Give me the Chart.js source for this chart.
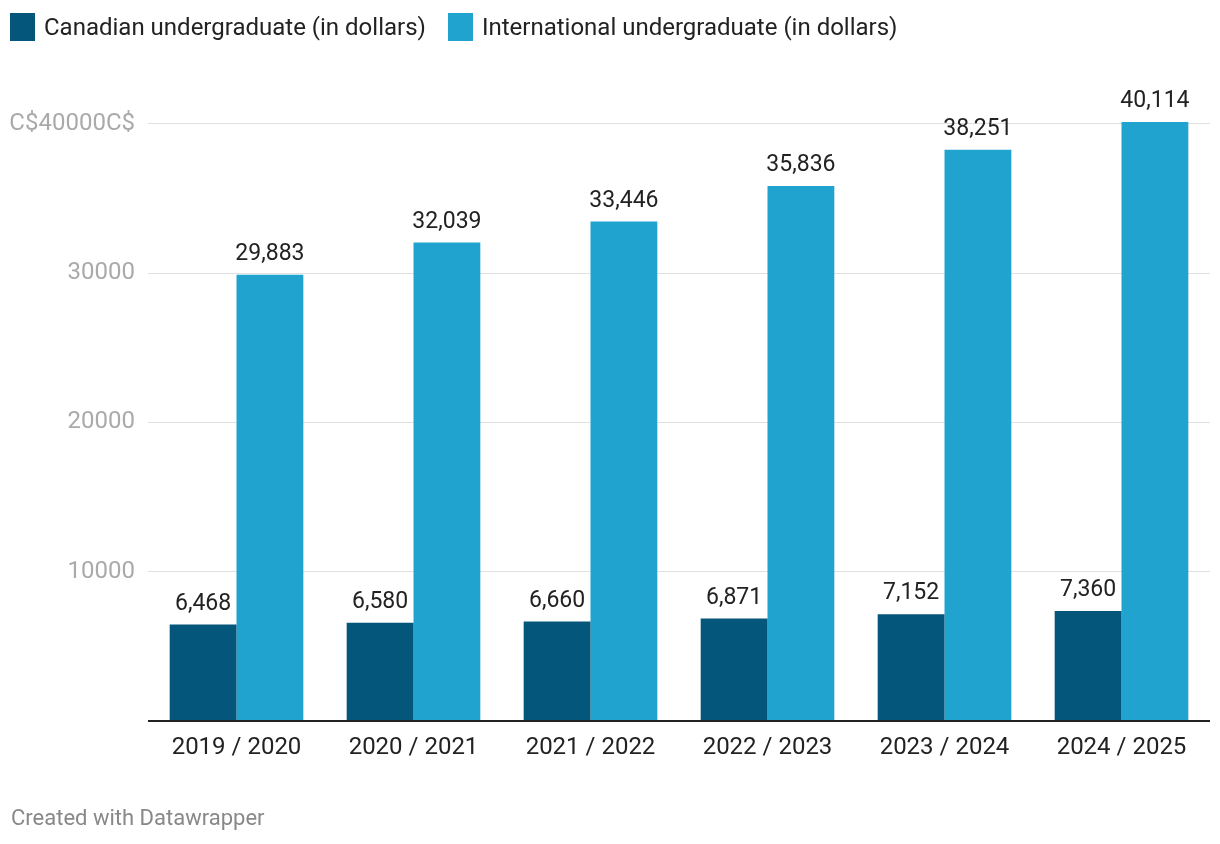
<!DOCTYPE html>
<html>
<head>
<meta charset="utf-8">
<script src="https://cdn.jsdelivr.net/npm/chart.js@4/dist/chart.umd.min.js"></script>
<style>
  html, body { margin: 0; padding: 0; background: #fff; }
  body { width: 1220px; height: 844px; position: relative; overflow: hidden; font-family: Roboto, sans-serif; }
  #wrap { position: absolute; left: 0; top: 0; width: 1220px; height: 844px; }
  .legend { position: absolute; top: 12px; left: 10px; display: flex; font-size: 24px; color: #222; line-height: 30px; }
  .legend span.item { display: flex; align-items: center; margin-right: 22px; }
  .legend i { display: inline-block; width: 25px; height: 28px; margin-right: 9px; }
  .footer { position: absolute; left: 11px; top: 805px; font-size: 22px; color: #888; }
</style>
</head>
<body>
<div id="wrap"><canvas id="chart"></canvas></div>
<div class="legend">
  <span class="item"><i style="background:#04567a"></i>Canadian undergraduate (in dollars)</span>
  <span class="item"><i style="background:#21a3cf"></i>International undergraduate (in dollars)</span>
</div>
<div class="footer">Created with Datawrapper</div>
<script>
// Tuition data
const years = ['2019 / 2020', '2020 / 2021', '2021 / 2022', '2022 / 2023', '2023 / 2024', '2024 / 2025'];
const canadian = [6468, 6580, 6660, 6871, 7152, 7360];
const international = [29883, 32039, 33446, 35836, 38251, 40114];
const yTicks = [0, 10000, 20000, 30000, 40000];

const COLORS = { canadian: '#04567a', international: '#21a3cf' };

/** Draws value labels above each bar. */
const valueLabels = {
  id: 'valueLabels',
  afterDatasetsDraw(chart) {
    const ctx = chart.ctx;
    ctx.save();
    ctx.font = '23px Roboto';
    ctx.fillStyle = '#222';
    ctx.textAlign = 'center';
    ctx.textBaseline = 'bottom';
    chart.data.datasets.forEach((ds, i) => {
      chart.getDatasetMeta(i).data.forEach((bar, j) => {
        ctx.fillText(ds.data[j].toLocaleString('en-US'), bar.x, bar.y - 9);
      });
    });
    ctx.restore();
  }
};

new Chart(document.getElementById('chart'), {
  type: 'bar',
  data: {
    labels: years,
    datasets: [
      { label: 'Canadian undergraduate (in dollars)', data: canadian, backgroundColor: COLORS.canadian },
      { label: 'International undergraduate (in dollars)', data: international, backgroundColor: COLORS.international },
    ]
  },
  options: {
    responsive: true,
    maintainAspectRatio: false,
    animation: false,
    layout: { padding: { top: 122, right: 10, bottom: 83, left: 0 } },
    datasets: { bar: { categoryPercentage: 0.755, barPercentage: 1 } },
    plugins: { legend: { display: false }, tooltip: { enabled: false } },
    scales: {
      x: {
        grid: { display: false },
        border: { display: false },
        ticks: { color: '#222', font: { family: 'Roboto', size: 24 }, padding: 5 },
        afterFit(scale) { scale.height = 40; }
      },
      y: {
        min: 0,
        max: 40114,
        border: { display: false },
        afterBuildTicks(scale) { scale.ticks = yTicks.map(v => ({ value: v })); },
        afterFit(scale) { scale.width = 148; },
        grid: {
          drawTicks: false,
          color: (c) => c.tick && c.tick.value === 0 ? '#222' : '#e0e0e0',
          lineWidth: (c) => c.tick && c.tick.value === 0 ? 2 : 1
        },
        ticks: {
          color: '#aaa',
          padding: 13,
          font: { family: 'Roboto', size: 24 },
          callback: (v) => v === 0 ? '' : (v === 40000 ? 'C$40000C$' : String(v))
        }
      }
    }
  },
  plugins: [valueLabels]
});
</script>
</body>
</html>
